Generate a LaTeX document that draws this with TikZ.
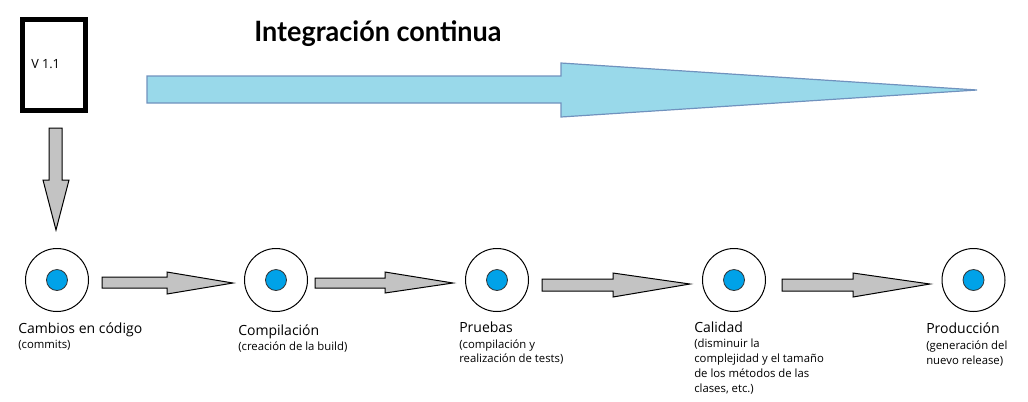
\documentclass[tikz,border=0pt]{standalone}
\usepackage{fontspec}
\setmainfont{Open Sans}
\newfontfamily\titlefont{Lato}
\usetikzlibrary{calc}
\definecolor{skyfill}{RGB}{153,217,234}
\definecolor{skyline}{RGB}{112,146,190}
\definecolor{greyfill}{RGB}{195,195,195}
\definecolor{dotblue}{RGB}{0,162,232}
\tikzset{
  px/.style={x=0.75pt,y=-0.75pt},
  outerc/.style={circle,draw=black,line width=0.75pt,fill=white,minimum size=47.25pt,inner sep=0pt},
  innerc/.style={circle,draw=black!80,line width=0.6pt,fill=dotblue,minimum size=15.75pt,inner sep=0pt},
  fatgrey/.style={draw=black,line width=0.75pt,fill=greyfill,line join=miter},
  fatsky/.style={draw=skyline,line width=0.9pt,fill=skyfill},
  mainlbl/.style={anchor=base west,inner sep=0pt,font=\fontsize{10.5}{12}\selectfont},
  sublbl/.style={anchor=base west,inner sep=0pt,font=\fontsize{8.5}{11.25}\selectfont},
}
\begin{document}
\begin{tikzpicture}[px]
\useasboundingbox (0,0) rectangle (1028,401);
% version box
\node[draw=black,line width=3.75pt,minimum width=47.25pt,minimum height=68.25pt,inner sep=0pt] (vbox) at (54,65) {};
\node[anchor=base west,inner sep=0pt,font=\fontsize{9.5}{11}\selectfont] (vtxt) at (31,68) {V 1.1};
% title
\node[anchor=base west,inner sep=0pt] (title) at (254,41) {\scalebox{0.965}[1]{\titlefont\bfseries\fontsize{21}{24}\selectfont Integración continua}};
% big sky arrow
\draw[fatsky] (147,76) -- (561,76) -- (561,63) -- (977,90) -- (561,117) -- (561,103) -- (147,103) -- cycle;
% down arrow
\draw[fatgrey] (49,128) -- (62,128) -- (62,180) -- (69,180) -- (56,230) -- (43,180) -- (49,180) -- cycle;
% circles
\foreach \n/\cx in {1/57,2/276,3/497,4/734,5/973.5}{
  \node[outerc] (c\n) at (\cx,280) {};
  \node[innerc] (d\n) at (c\n) {};
}
% grey arrows
\draw[fatgrey] (102,277) -- (167,277) -- (167,272) -- (233,283) -- (167,294) -- (167,288) -- (102,288) -- cycle;
\draw[fatgrey] (315,278) -- (385,278) -- (385,272) -- (453,283) -- (385,293) -- (385,288) -- (315,288) -- cycle;
\draw[fatgrey] (542,279) -- (613,279) -- (613,273) -- (690,284) -- (613,297) -- (613,291) -- (542,291) -- cycle;
\draw[fatgrey] (782,279) -- (853,279) -- (853,273) -- (930,284) -- (853,297) -- (853,291) -- (782,291) -- cycle;
% labels
\node[mainlbl] (l1) at (18,333) {Cambios en código};
\node[sublbl] (s1) at (18,348) {(commits)};
\node[mainlbl] (l2) at (238,335.5) {Compilación};
\node[sublbl] (s2) at (238,350) {(creación de la build)};
\node[mainlbl] (l3) at (459,332) {Pruebas};
\node[sublbl] (s3a) at (459,348) {(compilación y};
\node[sublbl] (s3b) at (459,362.5) {realización de tests)};
\node[mainlbl] (l4) at (694,332) {Calidad};
\node[sublbl] (s4a) at (694,347) {(disminuir la};
\node[sublbl] (s4b) at (694,362) {complejidad y el tamaño};
\node[sublbl] (s4c) at (694,377) {de los métodos de las};
\node[sublbl] (s4d) at (694,392) {clases, etc.)};
\node[mainlbl] (l5) at (926,333) {Producción};
\node[sublbl] (s5a) at (926,349) {(generación del};
\node[sublbl] (s5b) at (926,364) {nuevo release)};
\end{tikzpicture}
\end{document}
